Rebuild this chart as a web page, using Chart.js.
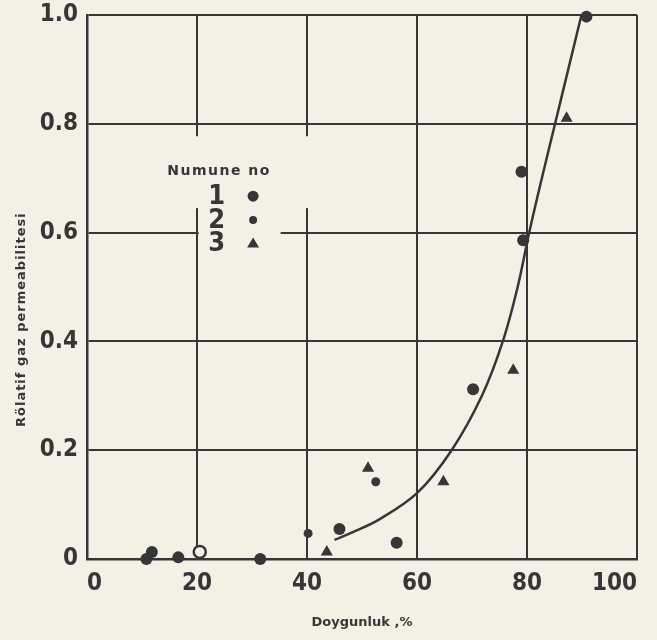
<!DOCTYPE html>
<html>
<head>
<meta charset="utf-8">
<script src="https://cdn.jsdelivr.net/npm/chart.js@4.4.0/dist/chart.umd.min.js"></script>
<style>
html, body { margin: 0; padding: 0; background: #f3f1e6; }
#wrap { width: 657px; height: 640px; }
</style>
</head>
<body>
<div id="wrap"><canvas id="chart"></canvas></div>
<script>
// values
const xTicks = [0, 20, 40, 60, 80, 100];
const yTicks = [0, 0.2, 0.4, 0.6, 0.8, 1.0];

// Numune 1 (large dots)
const s1x = [10.8, 11.8, 16.6, 20.5, 31.5, 45.9, 56.3, 70.2, 79.0, 79.3, 90.8];
const s1y = [0.0, 0.013, 0.003, 0.013, 0.0, 0.055, 0.030, 0.312, 0.712, 0.586, 0.997];
// Numune 2 (small dots)
const s2x = [40.2, 52.5];
const s2y = [0.047, 0.142];
// Numune 3 (triangles)
const s3x = [43.6, 51.1, 64.8, 77.5, 87.2];
const s3y = [0.013, 0.167, 0.142, 0.347, 0.81];
// fitted curve
const curveX = [45, 48, 53, 60, 66.3, 71.8, 75.6, 78.3, 80.4, 82.7, 85.1, 87.5, 89.9];
const curveY = [0.035, 0.048, 0.072, 0.121, 0.2, 0.3, 0.4, 0.5, 0.6, 0.7, 0.8, 0.9, 1.0];

const legendLabels = ['1', '2', '3'];

const ink = '#363636';
const paper = '#f3f1e6';

function pts(xs, ys) {
    return xs.map((x, i) => ({ x: x, y: ys[i] }));
}

// legend inside the plot, with the grid broken around it like in the scan
const insideLegend = {
    id: 'insideLegend',
    beforeDatasetsDraw(chart) {
        const ctx = chart.ctx;
        const xs = chart.scales.x, ys = chart.scales.y;
        const px = v => xs.getPixelForValue(v);
        const py = v => ys.getPixelForValue(v);
        ctx.save();
        ctx.fillStyle = paper;
        ctx.fillRect(px(19), py(0.777), px(41) - px(19), py(0.668) - py(0.777));
        ctx.fillRect(px(19), py(0.67), px(21), py(0.645) - py(0.67));
        ctx.fillRect(px(20.3), py(0.61), px(35.2) - px(20.3), py(0.59) - py(0.61));

        ctx.fillStyle = ink;
        ctx.textBaseline = 'middle';
        ctx.textAlign = 'left';
        ctx.font = 'bold 14px "DejaVu Sans"';
        if ('letterSpacing' in ctx) ctx.letterSpacing = '1.5px';
        ctx.fillText('Numune no', px(14.6), py(0.712));
        if ('letterSpacing' in ctx) ctx.letterSpacing = '0px';

        ctx.font = 'bold 27px "DejaVu Sans Condensed"';
        ctx.textAlign = 'center';
        const rowY = [0.667, 0.623, 0.580];
        const mx = px(30.2);
        legendLabels.forEach((t, i) => {
            ctx.fillText(t, px(23.6), py(rowY[i]) + 1);
        });
        ctx.beginPath();
        ctx.arc(mx, py(rowY[0]), 5.5, 0, Math.PI * 2);
        ctx.fill();
        ctx.beginPath();
        ctx.arc(mx, py(rowY[1]), 4, 0, Math.PI * 2);
        ctx.fill();
        const ty = py(rowY[2]);
        ctx.beginPath();
        ctx.moveTo(mx, ty - 6);
        ctx.lineTo(mx + 6, ty + 4);
        ctx.lineTo(mx - 6, ty + 4);
        ctx.closePath();
        ctx.fill();
        ctx.restore();
    },
    afterDraw(chart) {
        // y axis title, sitting a bit below the middle as in the scan
        const ctx = chart.ctx;
        const ys = chart.scales.y;
        ctx.save();
        ctx.fillStyle = ink;
        ctx.font = 'bold 13px "DejaVu Sans"';
        if ('letterSpacing' in ctx) ctx.letterSpacing = '1px';
        ctx.textAlign = 'center';
        ctx.textBaseline = 'middle';
        ctx.translate(22, ys.getPixelForValue(0.44));
        ctx.rotate(-Math.PI / 2);
        ctx.fillText('Rölatif gaz permeabilitesi', 0, 0);
        ctx.restore();
    }
};

Chart.defaults.color = ink;
Chart.defaults.font.family = '"DejaVu Sans Condensed"';

new Chart(document.getElementById('chart'), {
    type: 'scatter',
    data: {
        datasets: [
            {
                label: 'curve',
                type: 'line',
                data: pts(curveX, curveY),
                borderColor: ink,
                borderWidth: 2.5,
                pointRadius: 0,
                tension: 0.35,
                fill: false,
                clip: false
            },
            {
                label: '1',
                data: pts(s1x, s1y),
                pointStyle: 'circle',
                pointRadius: 6,
                backgroundColor: ctx => ctx.dataIndex === 3 ? paper : ink,
                borderColor: ink,
                borderWidth: ctx => ctx.dataIndex === 3 ? 2.5 : 0,
                clip: false
            },
            {
                label: '2',
                data: pts(s2x, s2y),
                pointStyle: 'circle',
                pointRadius: 4.5,
                backgroundColor: ink,
                borderWidth: 0,
                clip: false
            },
            {
                label: '3',
                data: pts(s3x, s3y),
                pointStyle: 'triangle',
                pointRadius: 7,
                backgroundColor: ink,
                borderColor: ink,
                borderWidth: 0,
                clip: false
            }
        ]
    },
    options: {
        responsive: true,
        maintainAspectRatio: false,
        animation: false,
        layout: { padding: { left: 0, top: 15, right: 20, bottom: 0 } },
        plugins: {
            legend: { display: false },
            tooltip: { enabled: false }
        },
        scales: {
            x: {
                type: 'linear',
                min: 0,
                max: 100,
                afterBuildTicks: axis => { axis.ticks = xTicks.map(v => ({ value: v })); },
                afterFit: axis => { axis.height = 81; axis.paddingLeft = 0; axis.paddingRight = 0; },
                grid: { color: ink, lineWidth: 2, tickLength: 0, drawTicks: false },
                border: { color: ink, width: 2.5 },
                ticks: {
                    padding: 10,
                    align: 'inner',
                    font: { size: 24, weight: 'bold' },
                    color: ink
                },
                title: {
                    display: true,
                    text: 'Doygunluk ,%',
                    font: { family: '"DejaVu Sans"', size: 13, weight: 'bold' },
                    color: ink,
                    padding: { top: 2, bottom: 10 }
                }
            },
            y: {
                type: 'linear',
                min: 0,
                max: 1,
                afterBuildTicks: axis => { axis.ticks = yTicks.map(v => ({ value: v })); },
                afterFit: axis => { axis.width = 87; axis.paddingTop = 0; axis.paddingBottom = 0; },
                grid: { color: ink, lineWidth: 2, tickLength: 0, drawTicks: false },
                border: { color: ink, width: 2.5 },
                ticks: {
                    padding: 9,
                    font: { size: 24, weight: 'bold' },
                    color: ink,
                    callback: v => v === 0 ? '0' : v.toFixed(1)
                }
            }
        }
    },
    plugins: [insideLegend]
});
</script>
</body>
</html>
